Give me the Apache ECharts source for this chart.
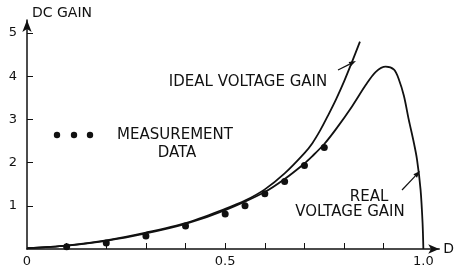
<!DOCTYPE html>
<html>
<head>
<meta charset="utf-8">
<script src="https://cdn.jsdelivr.net/npm/echarts@6/dist/echarts.min.js"></script>
<style>
  html, body { margin: 0; padding: 0; background: #fff; }
  #chart { width: 457px; height: 271px; }
</style>
</head>
<body>
<div id="chart"></div>
<script>
const chart = echarts.init(document.getElementById('chart'));

// duty cycle D vs DC gain
const idealD = [0, 0.1, 0.2, 0.3, 0.4, 0.5, 0.55, 0.6, 0.65, 0.7, 0.72, 0.74, 0.76, 0.78, 0.8, 0.82, 0.84];
const idealGain = [0.02, 0.08, 0.2, 0.38, 0.6, 0.93, 1.12, 1.38, 1.75, 2.22, 2.45, 2.75, 3.1, 3.47, 3.88, 4.33, 4.8];

const realD = [0, 0.1, 0.2, 0.3, 0.4, 0.5, 0.6, 0.65, 0.7, 0.72, 0.75, 0.78, 0.82, 0.855, 0.88, 0.905, 0.926, 0.938, 0.951, 0.963, 0.976, 0.984, 0.993, 0.998, 1.0];
const realGain = [0.02, 0.08, 0.19, 0.36, 0.58, 0.9, 1.32, 1.62, 1.98, 2.15, 2.43, 2.78, 3.3, 3.8, 4.1, 4.22, 4.15, 3.93, 3.54, 3.0, 2.46, 2.07, 1.37, 0.6, 0];

const measD = [0.1, 0.2, 0.3, 0.4, 0.5, 0.55, 0.6, 0.65, 0.7, 0.75];
const measGain = [0.05, 0.14, 0.3, 0.53, 0.81, 1.0, 1.28, 1.56, 1.93, 2.35];

const xTicks = [0.1, 0.2, 0.3, 0.4, 0.5, 0.6, 0.7, 0.8, 0.9];
const xLabels = [0, 0.5, 1.0];
const yTicks = [1, 2, 3, 4, 5];

const font = 'DejaVu Sans';
const ink = '#111';

const pairs = (xs, ys) => xs.map((x, i) => [x, ys[i]]);

const label = (text, x, y) => ({
  type: 'text', x, y,
  style: { text, fill: ink, font: `15px "${font}"`, align: 'center', verticalAlign: 'middle' }
});

const arrow = (x1, y1, x2, y2) => {
  const a = Math.atan2(y2 - y1, x2 - x1);
  const len = 7, half = 2.5;
  const bx = x2 - len * Math.cos(a), by = y2 - len * Math.sin(a);
  return [
    { type: 'line', shape: { x1, y1, x2: bx, y2: by }, style: { stroke: ink, lineWidth: 1.2 } },
    {
      type: 'polygon',
      shape: { points: [[x2, y2], [bx - half * Math.sin(a), by + half * Math.cos(a)], [bx + half * Math.sin(a), by - half * Math.cos(a)]] },
      style: { fill: ink }
    }
  ];
};

chart.setOption({
  animation: false,
  backgroundColor: '#fff',
  grid: { left: 27, right: 13, top: 20, bottom: 22 },
  xAxis: {
    type: 'value', min: 0, max: 1.04,
    name: 'D', nameLocation: 'end', nameGap: 4,
    nameTextStyle: { color: ink, fontFamily: font, fontSize: 14 },
    axisLine: { symbol: ['none', 'arrow'], symbolSize: [7, 11], lineStyle: { color: ink, width: 1.5 } },
    axisTick: { inside: true, length: 6, customValues: xTicks, lineStyle: { color: ink } },
    axisLabel: {
      customValues: xLabels, color: ink, fontFamily: font, fontSize: 13, margin: 6,
      formatter: (v) => (v === 0 ? '0' : v.toFixed(1))
    },
    splitLine: { show: false }
  },
  yAxis: {
    type: 'value', min: 0, max: 5.3,
    name: 'DC GAIN', nameLocation: 'end', nameGap: 7,
    nameTextStyle: { color: ink, fontFamily: font, fontSize: 14, align: 'left', verticalAlign: 'middle', padding: [0, 0, 0, 5] },
    axisLine: { symbol: ['none', 'arrow'], symbolSize: [7, 12], lineStyle: { color: ink, width: 1.5 } },
    axisTick: { inside: true, length: 6, customValues: yTicks, lineStyle: { color: ink } },
    axisLabel: { customValues: yTicks, color: ink, fontFamily: font, fontSize: 13, margin: 10 },
    splitLine: { show: false }
  },
  series: [
    {
      name: 'IDEAL VOLTAGE GAIN', type: 'line', smooth: 0.3, symbol: 'none',
      lineStyle: { color: ink, width: 1.8 }, data: pairs(idealD, idealGain)
    },
    {
      name: 'REAL VOLTAGE GAIN', type: 'line', smooth: 0.3, symbol: 'none',
      lineStyle: { color: ink, width: 1.8 }, data: pairs(realD, realGain)
    },
    {
      name: 'MEASUREMENT DATA', type: 'scatter', symbol: 'circle', symbolSize: 7,
      itemStyle: { color: ink, opacity: 1 }, data: pairs(measD, measGain)
    }
  ],
  graphic: [
    label('IDEAL VOLTAGE GAIN', 248, 82),
    label('MEASUREMENT', 175, 135),
    label('DATA', 177, 153),
    label('REAL', 369, 197),
    label('VOLTAGE GAIN', 350, 212),
    { type: 'circle', shape: { cx: 57, cy: 135, r: 3.2 }, style: { fill: ink } },
    { type: 'circle', shape: { cx: 74, cy: 135, r: 3.2 }, style: { fill: ink } },
    { type: 'circle', shape: { cx: 90, cy: 135, r: 3.2 }, style: { fill: ink } },
    ...arrow(338, 70, 356, 61),
    ...arrow(402, 190, 420, 171)
  ]
});
</script>
</body>
</html>
